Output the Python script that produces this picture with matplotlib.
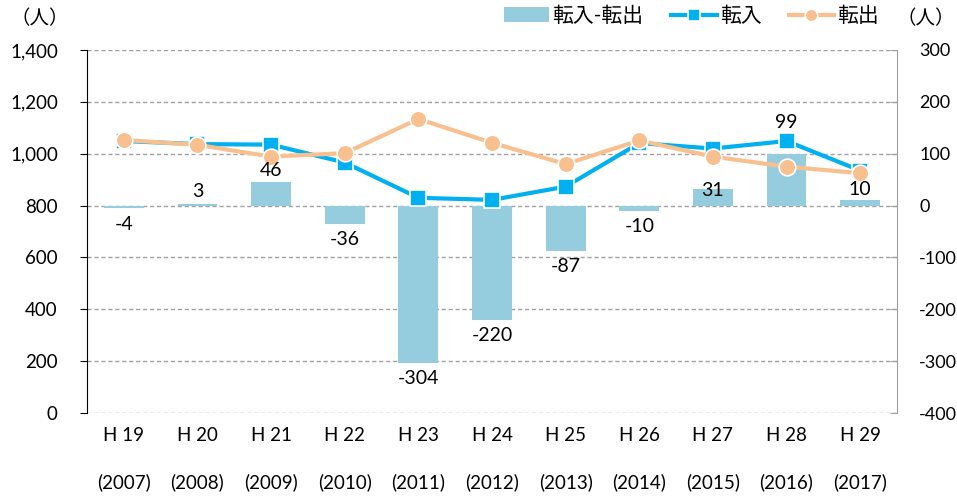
import matplotlib.pyplot as plt
import numpy as np

plt.rcParams['font.family'] = ['Lato', 'Noto Sans CJK JP', 'DejaVu Sans']
plt.rcParams['font.size'] = 13
plt.rcParams['axes.unicode_minus'] = False

# data
years = ['H 19\n(2007)', 'H 20\n(2008)', 'H 21\n(2009)', 'H 22\n(2010)', 'H 23\n(2011)', 'H 24\n(2012)',
         'H 25\n(2013)', 'H 26\n(2014)', 'H 27\n(2015)', 'H 28\n(2016)', 'H 29\n(2017)']
tennyu = [1049, 1037, 1035, 966, 830, 822, 873, 1041, 1020, 1049, 935]
tenshutsu = [1053, 1034, 989, 1002, 1134, 1042, 960, 1051, 989, 950, 925]
net = [-4, 3, 46, -36, -304, -220, -87, -10, 31, 99, 10]

# label offsets (points) for the bar labels, moved by hand like in the original
label_dy = [-6, 3, 2, -5, -5, -5, -5, -5, -7, 17, 2]

bar_color = '#96CDDE'
in_color = '#00B0F0'
out_color = '#F9C08F'

x = np.arange(len(years))

fig = plt.figure(figsize=(9.57, 4.98), dpi=100)
ax = fig.add_axes([87 / 957, 1 - 413 / 498, 810 / 957, 363 / 498])
ax2 = ax.twinx()

# bars on right axis, behind the lines
ax2.set_axisbelow(True)
ax2.grid(axis='y', color='#A0A0A0', linestyle=(0, (3, 2)), linewidth=1)
bars = ax2.bar(x, net, width=0.54, color=bar_color, label='転入-転出', zorder=2)
ax2.set_ylim(-400, 300)
ax2.set_yticks(range(-400, 301, 100))

ax.set_zorder(ax2.get_zorder() + 1)
ax.patch.set_visible(False)
l1, = ax.plot(x, tennyu, color=in_color, lw=3, marker='s', ms=11,
              mec='white', mew=1.2, label='転入')
l2, = ax.plot(x, tenshutsu, color=out_color, lw=3, marker='o', ms=12,
              mec='white', mew=1.2, label='転出')

# bar labels drawn on the top axes so they sit over the lines
for xi, v, dy in zip(x, net, label_dy):
    ax.annotate(str(v), (xi, v), xycoords=ax2.transData, xytext=(0, dy), textcoords='offset points',
                ha='center', va='bottom' if v >= 0 else 'top', fontsize=14, zorder=5)

ax.set_ylim(0, 1400)
ax.set_yticks(range(0, 1401, 200))
ax.yaxis.set_major_formatter(plt.FuncFormatter(lambda v, p: f'{int(v):,}'))
ax.set_xlim(-0.5, len(years) - 0.5)
ax.set_xticks(x)
ax.set_xticklabels(years, linespacing=3.0, fontsize=13.5)

for a in (ax, ax2):
    a.spines['top'].set_visible(False)
    a.spines['bottom'].set_visible(False)
    a.tick_params(axis='x', length=0, pad=10)
ax.tick_params(axis='y', length=5, direction='out', pad=16, labelsize=13.5, color='black')
ax2.tick_params(axis='y', length=5, direction='in', pad=16, labelsize=13, color='#A0A0A0')
ax2.spines['left'].set_visible(False)
ax2.spines['right'].set_color('#A0A0A0')
ax.spines['right'].set_visible(False)
ax.spines['left'].set_color('black')

fig.text(10 / 957, 1 - 18 / 498, '（人）', ha='left', va='center', fontsize=14)
fig.text(1 - 2 / 957, 1 - 18 / 498, '（人）', ha='right', va='center', fontsize=14)

fig.legend(handles=[bars, l1, l2], loc='center right', bbox_to_anchor=(898 / 957, 1 - 16 / 498),
           ncol=3, frameon=False, fontsize=15, handlelength=2.2, columnspacing=1.3,
           handletextpad=0.15, markerscale=0.75)

fig.savefig('out.png', dpi=100)
